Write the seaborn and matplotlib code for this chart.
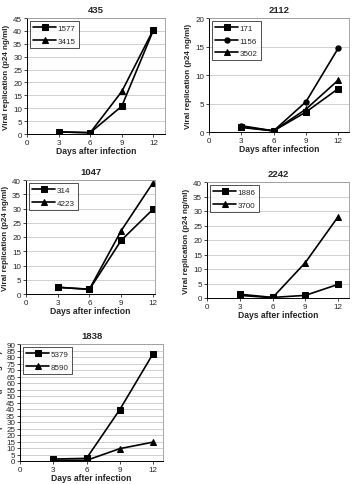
import numpy as np
import pandas as pd
import matplotlib
matplotlib.use('Agg')
import matplotlib.pyplot as plt
import seaborn as sns

days = [3, 6, 9, 12]

# panel 435
d435_1577 = [0.8, 0.5, 10.8, 40.3]
d435_3415 = [0.8, 0.5, 16.5, 40.5]
# panel 2112
d2112_171 = [0.8, 0.2, 3.5, 7.6]
d2112_1156 = [1.1, 0.2, 5.3, 14.7]
d2112_3502 = [0.9, 0.2, 4.0, 9.1]
# panel 1047
d1047_314 = [2.4, 1.6, 18.8, 29.7]
d1047_4223 = [2.3, 1.7, 22.2, 39.0]
# panel 2242
d2242_1886 = [1.3, 0.2, 0.9, 4.7]
d2242_3700 = [0.9, 0.1, 12.2, 28.0]
# panel 1838
d1838_5379 = [1.5, 2.0, 39.5, 82.5]
d1838_8590 = [0.5, 0.5, 9.5, 14.5]

sns.set_theme(style="white")
plt.rcParams['font.family'] = ['Liberation Sans', 'DejaVu Sans']

W, H = 353, 485
fig = plt.figure(figsize=(W / 100, H / 100), dpi=100)

# (title, series dict, markers, ymax, ystep, xmax, box px: left, right, top, bottom)
panels = [
    ("435", {"1577": d435_1577, "3415": d435_3415}, ["s", "^"], 45, 5, 13.1, (27, 165, 19, 135)),
    ("2112", {"171": d2112_171, "1156": d2112_1156, "3502": d2112_3502}, ["s", "o", "^"], 20, 5, 13.0, (209, 349, 19, 133)),
    ("1047", {"314": d1047_314, "4223": d1047_4223}, ["s", "^"], 40, 5, 12.2, (26, 155, 181, 295)),
    ("2242", {"1886": d2242_1886, "3700": d2242_3700}, ["s", "^"], 40, 5, 13.0, (207, 349, 183, 299)),
    ("1838", {"5379": d1838_5379, "8590": d1838_8590}, ["s", "^"], 90, 5, 12.9, (20, 163, 345, 462)),
]

for title, series, mk, ymax, ystep, xmax, (l, r, t, b) in panels:
    ax = fig.add_axes([l / W, (H - b) / H, (r - l) / W, (b - t) / H])
    rows = []
    for name, vals in series.items():
        for d, v in zip(days, vals):
            rows.append({"day": d, "value": v, "donor": name})
    df = pd.DataFrame(rows)
    names = list(series.keys())
    sns.lineplot(data=df, x="day", y="value", hue="donor", style="donor",
                 hue_order=names, style_order=names,
                 palette=["black"] * len(names), markers=mk, dashes=False,
                 markersize=4.6, linewidth=1.2, markeredgecolor="black", ax=ax)
    ax.set_xlim(0, xmax)
    ax.set_ylim(0, ymax)
    ax.set_xticks([0, 3, 6, 9, 12])
    ax.set_yticks(np.arange(0, ymax + 0.1, ystep))
    ax.yaxis.grid(True, color="#c8c8c8", linewidth=0.6)
    ax.set_axisbelow(True)
    ax.tick_params(axis="both", labelsize=5.8, length=2, width=0.6, pad=1.5,
                   left=True, bottom=True)
    for side in ["top", "right"]:
        ax.spines[side].set_color("#999999")
        ax.spines[side].set_linewidth(0.6)
    for side in ["left", "bottom"]:
        ax.spines[side].set_color("black")
        ax.spines[side].set_linewidth(0.7)
    ax.set_title(title, fontsize=6.8, fontweight="bold", pad=4)
    ax.set_xlabel("Days after infection", fontsize=6.2, fontweight="bold", labelpad=0)
    ax.set_ylabel("Viral replication (p24 ng/ml)", fontsize=5.8, fontweight="bold", labelpad=2)
    leg = ax.legend(loc="upper left", fontsize=5.8, frameon=True, handlelength=2.8,
                    borderpad=0.4, labelspacing=0.6, handletextpad=0.2, fancybox=False,
                    borderaxespad=0.4)
    leg.get_frame().set_edgecolor("black")
    leg.get_frame().set_linewidth(0.6)
    # circles are drawn a bit smaller than squares and triangles
    for ln in ax.lines + leg.get_lines():
        if ln.get_marker() == "o":
            ln.set_markersize(3.8)

fig.savefig("out.png", dpi=100)
